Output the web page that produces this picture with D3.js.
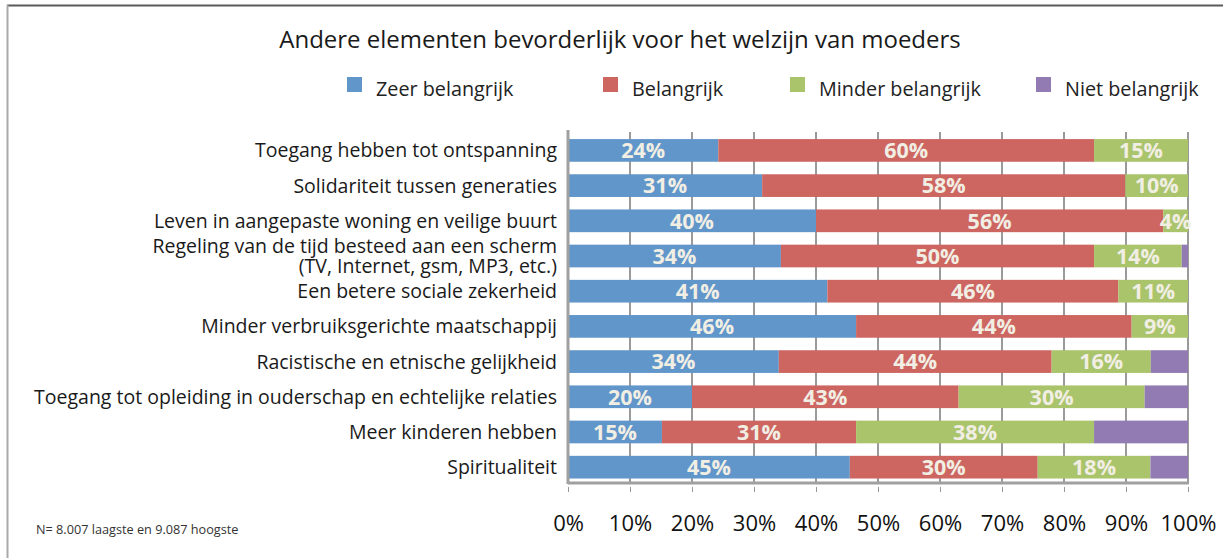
<!DOCTYPE html>
<html><head><meta charset="utf-8">
<script src="https://cdn.jsdelivr.net/npm/d3@7"></script>
<style>
body{margin:0;background:#fff;}
svg{display:block;}
text{font-family:"Open Sans",sans-serif;}
</style></head>
<body><svg id="c" width="1223" height="558"></svg>
<script>
const title = "Andere elementen bevorderlijk voor het welzijn van moeders";
const categories = [
  ["Toegang hebben tot ontspanning"],
  ["Solidariteit tussen generaties"],
  ["Leven in aangepaste woning en veilige buurt"],
  ["Regeling van de tijd besteed aan een scherm","(TV, Internet, gsm, MP3, etc.)"],
  ["Een betere sociale zekerheid"],
  ["Minder verbruiksgerichte maatschappij"],
  ["Racistische en etnische gelijkheid"],
  ["Toegang tot opleiding in ouderschap en echtelijke relaties"],
  ["Meer kinderen hebben "],
  ["Spiritualiteit"]
];
const seriesNames = ["Zeer belangrijk","Belangrijk","Minder belangrijk","Niet belangrijk"];
const zeerBelangrijk   = [24, 31, 40, 34, 41, 46, 34, 20, 15, 45];
const belangrijk       = [60, 58, 56, 50, 46, 44, 44, 43, 31, 30];
const minderBelangrijk = [15, 10,  4, 14, 11,  9, 16, 30, 38, 18];
const nietBelangrijk   = [ 0,  0,  0,  1,  0,  0,  6,  7, 15,  6];
const labelsShown = [true, true, true, false];
const tickValues = [0,10,20,30,40,50,60,70,80,90,100];
const footnote = "N= 8.007 laagste en 9.087 hoogste";
const colors = ["#6196cb","#cd6661","#aac46c","#927ab3"];

const svg = d3.select("#c");
// frame
svg.append("line").attr("x1",7).attr("x2",1223).attr("y1",5.5).attr("y2",5.5).attr("stroke","#5a5a5a").attr("stroke-width",2);
svg.append("line").attr("x1",7.5).attr("x2",7.5).attr("y1",5).attr("y2",558).attr("stroke","#aaa").attr("stroke-width",2);

svg.append("text").attr("x",620).attr("y",48).attr("text-anchor","middle")
  .attr("font-size",24).attr("fill","#1a1a1a").text(title);

// legend
const legendX = [347, 603, 790, 1036];
seriesNames.forEach((n,i)=>{
  const g = svg.append("g").attr("transform",`translate(${legendX[i]},77)`);
  g.append("rect").attr("width",15).attr("height",15).attr("fill",colors[i]);
  g.append("text").attr("x",29).attr("y",19).attr("font-size",19.8).attr("fill","#222").text(n);
});

const x = d3.scaleLinear().domain([0,1]).range([568,1188]);
const xPct = d3.scaleLinear().domain([0,100]).range([568,1188]);
const idx = d3.range(categories.length);
const y = d3.scaleBand().domain(idx).range([132,482]).paddingInner(0.355).paddingOuter(0.15).align(0.67);

// gridlines
svg.append("g").selectAll("line").data(tickValues.slice(1)).join("line")
  .attr("x1",d=>xPct(d)).attr("x2",d=>xPct(d)).attr("y1",132).attr("y2",482)
  .attr("stroke","#9a9a9a").attr("stroke-width",2);

// 100% stacked bars
const table = idx.map(i=>({i, s0: zeerBelangrijk[i], s1: belangrijk[i], s2: minderBelangrijk[i], s3: nietBelangrijk[i]}));
const keys = ["s0","s1","s2","s3"];
const stack = d3.stack().keys(keys).offset(d3.stackOffsetExpand)(table);
const gBars = svg.append("g");
stack.forEach((layer,k)=>{
  layer.forEach((seg,r)=>{
    const v = table[r][keys[k]];
    if (v<=0) return;
    gBars.append("rect").attr("x",x(seg[0])).attr("y",y(r)).attr("width",x(seg[1])-x(seg[0])).attr("height",y.bandwidth())
      .attr("fill",colors[k]);
    if (labelsShown[k]) {
      gBars.append("text").attr("x",(x(seg[0])+x(seg[1]))/2).attr("y",y(r)+y.bandwidth()/2).attr("dy","0.36em")
        .attr("text-anchor","middle").attr("font-size",21.5).attr("font-weight",700).attr("fill","#f1eee4")
        .text(v+"%");
    }
  });
});

// axes
svg.append("line").attr("x1",568).attr("x2",568).attr("y1",130).attr("y2",484).attr("stroke","#a0a0a0").attr("stroke-width",3);
svg.append("line").attr("x1",568).attr("x2",1189).attr("y1",483).attr("y2",483).attr("stroke","#a0a0a0").attr("stroke-width",3);
const xAxis = d3.axisBottom(xPct).tickValues(tickValues).tickFormat(d=>d+"%").tickSize(5).tickPadding(23);
const ga = svg.append("g").attr("transform","translate(0,487)").call(xAxis);
ga.select(".domain").remove();
ga.selectAll(".tick line").attr("stroke","#999");
ga.selectAll(".tick text").attr("font-size",22).attr("fill","#111").attr("font-family","Open Sans, sans-serif");

// category labels
idx.forEach(i=>{
  const lines = categories[i];
  const cy = y(i)+y.bandwidth()/2;
  const t = svg.append("text").attr("text-anchor","end").attr("font-size",19.5).attr("fill","#1a1a1a");
  lines.forEach((l,j)=>{
    t.append("tspan").attr("x",557).attr("y",cy + (j-(lines.length-1)/2)*19.5).attr("dy","0.36em").text(l);
  });
});

svg.append("text").attr("x",36).attr("y",534).attr("font-size",12.7).attr("fill","#333").text(footnote);
</script></body></html>
